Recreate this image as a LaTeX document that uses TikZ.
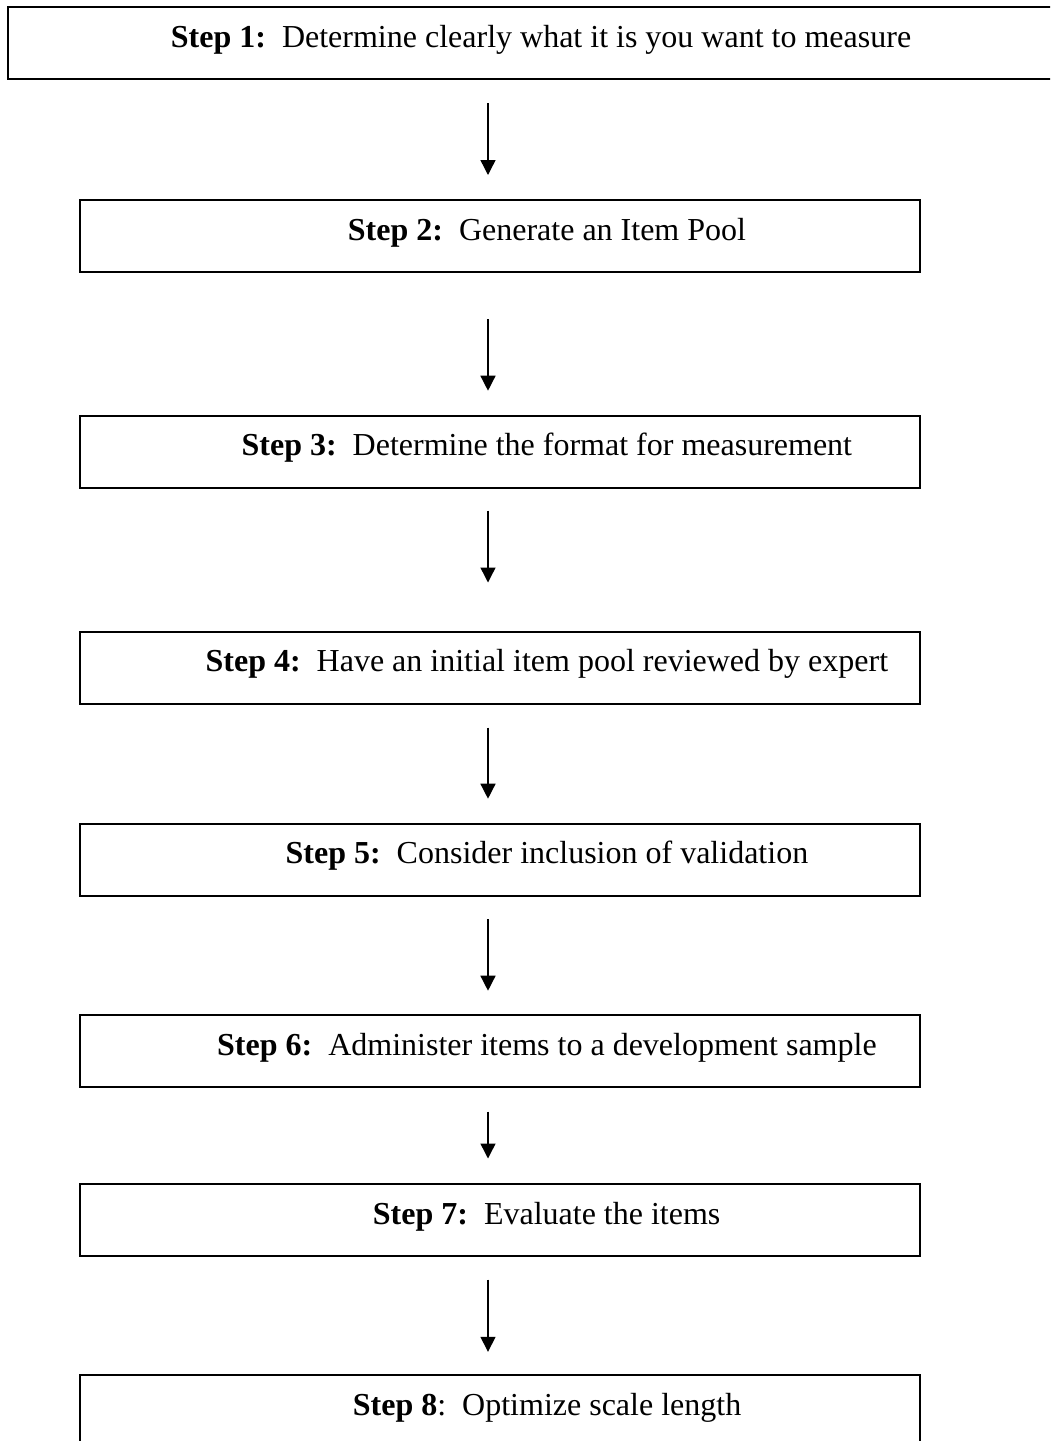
\documentclass[tikz,border=0pt]{standalone}
\usepackage{fontspec}
\setmainfont{Liberation Serif}
\usetikzlibrary{arrows.meta}
\tikzset{
  stepbox/.style={draw, line width=2pt, minimum height=72pt, inner sep=0pt, outer sep=0pt},
  wide/.style={minimum width=840.5pt},
  steptext/.style={anchor=base west, inner sep=0pt, font=\fontsize{32}{38}\selectfont},
  flowarrow/.style={line width=1.4pt, -{Triangle[length=15pt,width=15pt]}}
}
\begin{document}
\begin{tikzpicture}[x=1pt,y=-1pt]
\useasboundingbox (0,0) rectangle (1050,1441);
\clip (0,0) rectangle (1050,1441);
% boxes
\node[stepbox, minimum width=1062pt] (b1) at (539,43.3) {};
\node[stepbox, wide] (b2) at (499.75,236) {};
\node[stepbox, wide] (b3) at (499.75,451.7) {};
\node[stepbox, wide] (b4) at (499.75,667.5) {};
\node[stepbox, wide] (b5) at (499.75,859.7) {};
\node[stepbox, wide] (b6) at (499.75,1051.2) {};
\node[stepbox, wide] (b7) at (499.75,1219.5) {};
\node[stepbox, wide] (b8) at (499.75,1411.3) {};
% texts
\node[steptext] (t1) at (170.7,47) {\textbf{Step 1:}\hspace{0.5em}Determine clearly what it is you want to measure};
\node[steptext] (t2) at (347.7,240) {\textbf{Step 2:}\hspace{0.5em}Generate an Item Pool};
\node[steptext] (t3) at (241.4,455.7) {\textbf{Step 3:}\hspace{0.5em}Determine the format for measurement};
\node[steptext] (t4) at (205.4,671.7) {\textbf{Step 4:}\hspace{0.5em}Have an initial item pool reviewed by expert};
\node[steptext] (t5) at (285.4,863.5) {\textbf{Step 5:}\hspace{0.5em}Consider inclusion of validation};
\node[steptext] (t6) at (217,1055) {\textbf{Step 6:}\hspace{0.5em}Administer items to a development sample};
\node[steptext] (t7) at (372.7,1224) {\textbf{Step 7:}\hspace{0.5em}Evaluate the items};
\node[steptext] (t8) at (352.7,1415.5) {\textbf{Step 8}:\hspace{0.5em}Optimize scale length};
% arrows
\coordinate (ax) at (488,0);
\draw[flowarrow, shorten <=24pt, shorten >=25pt] (b1.south -| ax) -- (b2.north -| ax);
\draw[flowarrow, shorten <=47pt, shorten >=25pt] (b2.south -| ax) -- (b3.north -| ax);
\draw[flowarrow, shorten <=23pt, shorten >=49pt] (b3.south -| ax) -- (b4.north -| ax);
\draw[flowarrow, shorten <=24pt, shorten >=25pt] (b4.south -| ax) -- (b5.north -| ax);
\draw[flowarrow, shorten <=23.5pt, shorten >=24.5pt] (b5.south -| ax) -- (b6.north -| ax);
\draw[flowarrow, shorten <=24.5pt, shorten >=25pt] (b6.south -| ax) -- (b7.north -| ax);
\draw[flowarrow, shorten <=24pt, shorten >=23.5pt] (b7.south -| ax) -- (b8.north -| ax);
\end{tikzpicture}
\end{document}
